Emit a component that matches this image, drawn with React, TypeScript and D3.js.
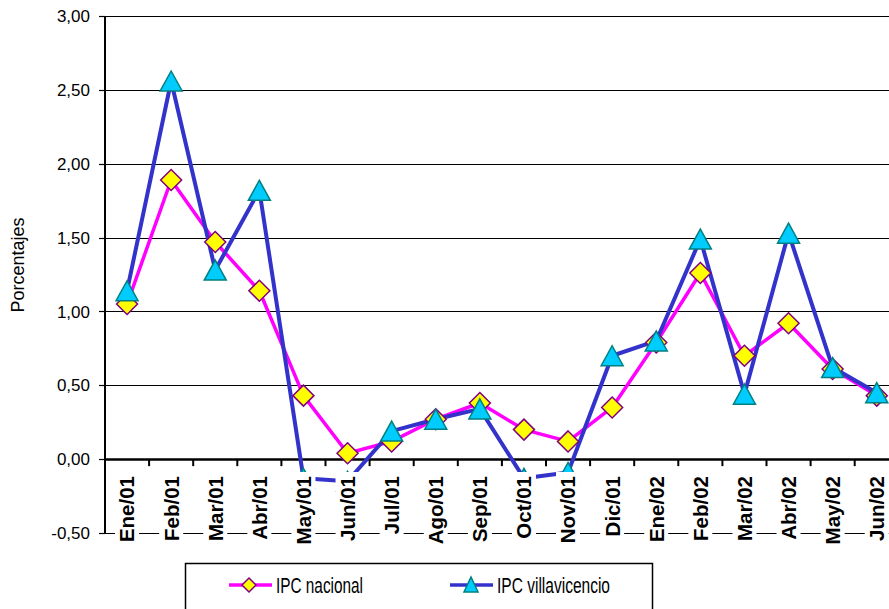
import React from "react";
import * as d3 from "d3";

const categories = ["Ene/01","Feb/01","Mar/01","Abr/01","May/01","Jun/01","Jul/01","Ago/01","Sep/01","Oct/01","Nov/01","Dic/01","Ene/02","Feb/02","Mar/02","Abr/02","May/02","Jun/02"];
const ipcNacional = [1.05, 1.89, 1.47, 1.14, 0.43, 0.04, 0.12, 0.27, 0.38, 0.20, 0.12, 0.35, 0.79, 1.26, 0.70, 0.92, 0.61, 0.43];
const ipcVillavicencio = [1.14, 2.56, 1.28, 1.82, -0.13, -0.15, 0.19, 0.27, 0.34, -0.13, -0.09, 0.70, 0.80, 1.49, 0.44, 1.53, 0.62, 0.45];
const yTicks = [-0.5, 0, 0.5, 1, 1.5, 2, 2.5, 3];
const seriesNames = ["IPC nacional", "IPC villavicencio"];

const W = 889, H = 609;
const FONT = "'Liberation Sans', Arial, sans-serif";

export default function App() {
  const left = 105;
  const band = 44.1;
  const x = d3.scaleBand<string>().domain(categories).range([left, left + band * categories.length]).padding(0);
  const y = d3.scaleLinear().domain([-0.5, 3]).range([533, 16]);
  const cx = (c: string) => (x(c) as number) + x.bandwidth() / 2;
  const fmt = (v: number) => d3.format(".2f")(v).replace(".", ",").replace("\u2212", "-");

  const line = d3.line<number>().x((_, i) => cx(categories[i])).y((d) => y(d));

  const diamond = "M0,-10.5L10.5,0L0,10.5L-10.5,0Z";
  const triangle = "M0,-10L11,10L-11,10Z";

  return (
    <svg width={W} height={H} style={{ position: "absolute", left: 0, top: 0, background: "#fff" }}>
      {yTicks.map((t) => (
        <line key={"g" + t} x1={left} x2={W} y1={Math.round(y(t)) + 0.5} y2={Math.round(y(t)) + 0.5}
          stroke="#000" strokeWidth={t === 0 ? 2.5 : 1} />
      ))}
      {yTicks.map((t) => (
        <line key={"t" + t} x1={99} x2={left} y1={Math.round(y(t)) + 0.5} y2={Math.round(y(t)) + 0.5} stroke="#000" strokeWidth={1.2} />
      ))}
      <line x1={left} x2={left} y1={y(3)} y2={y(-0.5)} stroke="#000" strokeWidth={2} />
      {categories.map((c, i) => i > 0 ? (
        <line key={"xt" + c} x1={x(c) as number} x2={x(c) as number} y1={y(0)} y2={y(0) + 7} stroke="#000" strokeWidth={2} />
      ) : null)}
      {yTicks.map((t) => (
        <text key={"l" + t} x={90} y={y(t)} dy="0.36em" textAnchor="end" fontFamily={FONT} fontSize={17} fill="#000">{fmt(t)}</text>
      ))}
      <text transform={`translate(24,265) rotate(-90)`} textAnchor="middle" fontFamily={FONT} fontSize={18} fill="#000">Porcentajes</text>

      <path d={line(ipcNacional) || ""} fill="none" stroke="#FF00FF" strokeWidth={3.5} strokeLinejoin="round" />
      <path d={line(ipcVillavicencio) || ""} fill="none" stroke="#3333CC" strokeWidth={4} strokeLinejoin="round" />
      {ipcNacional.map((v, i) => (
        <path key={"d" + i} d={diamond} transform={`translate(${cx(categories[i])},${y(v)})`} fill="#FFFF00" stroke="#800080" strokeWidth={1.5} />
      ))}
      {ipcVillavicencio.map((v, i) => (
        <path key={"tr" + i} d={triangle} transform={`translate(${cx(categories[i])},${y(v)})`} fill="#00CCFF" stroke="#008080" strokeWidth={1.5} />
      ))}

      {categories.map((c) => (
        <g key={"xl" + c}>
          <rect x={cx(c) - 12} y={472} width={24} height={88} fill="#fff" />
          <text transform={`translate(${cx(c)},476) rotate(-90)`} dy="0.36em" textAnchor="end" fontFamily={FONT} fontSize={20.5} fontWeight="bold" fill="#000">{c}</text>
        </g>
      ))}

      <rect x={185.5} y={563.5} width={467} height={60} fill="#fff" stroke="#000" strokeWidth={1.5} />
      <line x1={229} x2={272} y1={585} y2={585} stroke="#FF00FF" strokeWidth={3.5} />
      <path d="M0,-7L7,0L0,7L-7,0Z" transform="translate(249,585)" fill="#FFFF00" stroke="#800080" strokeWidth={1.5} />
      <text x={276} y={585} dy="0.36em" fontFamily={FONT} fontSize={22} textLength={87} lengthAdjust="spacingAndGlyphs" fill="#000">{seriesNames[0]}</text>
      <line x1={450} x2={493} y1={585} y2={585} stroke="#3333CC" strokeWidth={3.5} />
      <path d="M0,-8L7,7L-7,7Z" transform="translate(471,585)" fill="#00CCFF" stroke="#008080" strokeWidth={1.5} />
      <text x={497} y={585} dy="0.36em" fontFamily={FONT} fontSize={22} textLength={113} lengthAdjust="spacingAndGlyphs" fill="#000">{seriesNames[1]}</text>
    </svg>
  );
}
